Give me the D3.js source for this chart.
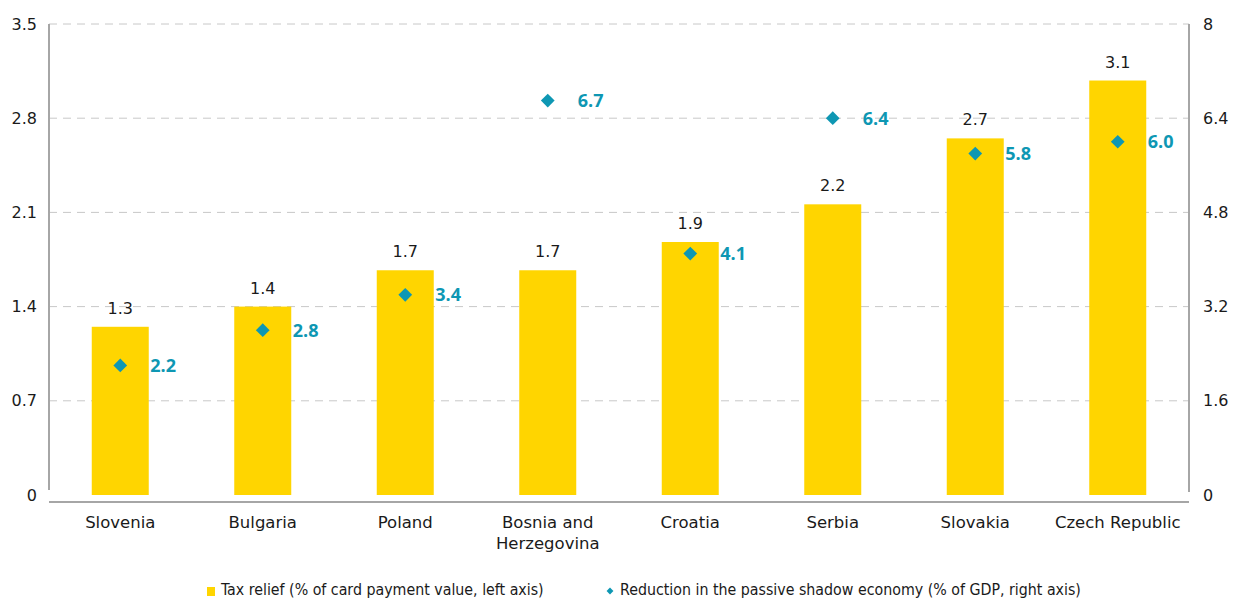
<!DOCTYPE html>
<html><head><meta charset="utf-8">
<script src="https://cdn.jsdelivr.net/npm/d3@7"></script>
<style>body{margin:0;background:#fff}svg{display:block}</style>
</head><body>
<svg id="c" width="1236" height="600"></svg>
<script>
const categories = ["Slovenia","Bulgaria","Poland","Bosnia and\nHerzegovina","Croatia","Serbia","Slovakia","Czech Republic"];
const taxRelief = [1.25, 1.4, 1.67, 1.67, 1.88, 2.16, 2.65, 3.08];
const taxReliefLabels = ["1.3","1.4","1.7","1.7","1.9","2.2","2.7","3.1"];
const shadowReduction = [2.2, 2.8, 3.4, 6.7, 4.1, 6.4, 5.8, 6.0];
const leftTicks = [0, 0.7, 1.4, 2.1, 2.8, 3.5];
const rightTicks = [0, 1.6, 3.2, 4.8, 6.4, 8];
const legendLabels = ["Tax relief (% of card payment value, left axis)","Reduction in the passive shadow economy (% of GDP, right axis)"];

const svg = d3.select("#c");
const L = 49, R = 1189, T = 24, B = 495;
const yellow = "#FFD500", teal = "#0E97B3";
const font = "'DejaVu Sans', Verdana, sans-serif";

const x = d3.scaleBand().domain(categories).range([L, R]).paddingInner(0.6).paddingOuter(0.3);
const yL = d3.scaleLinear().domain([0, 3.5]).range([B, T]);
const yR = d3.scaleLinear().domain([0, 8]).range([B, T]);

// gridlines
svg.append("g").selectAll("line").data(leftTicks.filter(d => d > 0)).join("line")
  .attr("x1", L).attr("x2", R).attr("y1", d => yL(d)).attr("y2", d => yL(d))
  .attr("stroke", "#c8c8c8").attr("stroke-width", 1).attr("stroke-dasharray", "8,6");

// axes
const gl = svg.append("g").attr("transform", `translate(${L},0)`)
  .call(d3.axisLeft(yL).tickValues(leftTicks).tickSize(0).tickPadding(12).tickFormat(d => d === 0 ? "0" : d3.format(".1f")(d)));
const gr = svg.append("g").attr("transform", `translate(${R},0)`)
  .call(d3.axisRight(yR).tickValues(rightTicks).tickSize(0).tickPadding(14).tickFormat(d => (d === 0 || d === 8) ? String(d) : d3.format(".1f")(d)));
[gl, gr].forEach(g => {
  g.select(".domain").remove();
  g.selectAll("text").attr("font-family", font).attr("font-size", 16).attr("fill", "#1a1a1a");
});
svg.append("line").attr("x1", L).attr("x2", L).attr("y1", T).attr("y2", 490).attr("stroke", "#a6a6a6").attr("stroke-width", 2);
svg.append("line").attr("x1", R).attr("x2", R).attr("y1", T).attr("y2", 492).attr("stroke", "#a6a6a6").attr("stroke-width", 2);
svg.append("line").attr("x1", L).attr("x2", R).attr("y1", 502).attr("y2", 502).attr("stroke", "#a6a6a6").attr("stroke-width", 2);

// bars
svg.append("g").selectAll("rect").data(categories).join("rect")
  .attr("x", d => x(d)).attr("width", x.bandwidth())
  .attr("y", (d, i) => yL(taxRelief[i])).attr("height", (d, i) => B - yL(taxRelief[i]))
  .attr("fill", yellow);

// bar labels
svg.append("g").selectAll("text").data(categories).join("text")
  .attr("x", d => x(d) + x.bandwidth() / 2).attr("y", (d, i) => yL(taxRelief[i]) - 13)
  .attr("text-anchor", "middle").attr("font-family", font).attr("font-size", 16).attr("fill", "#1a1a1a")
  .text((d, i) => taxReliefLabels[i]);

// diamonds
const sym = d3.symbol().type(d3.symbolDiamond2).size(120);
svg.append("g").selectAll("path").data(categories).join("path")
  .attr("d", sym)
  .attr("transform", (d, i) => `translate(${x(d) + x.bandwidth() / 2},${yR(shadowReduction[i])})`)
  .attr("fill", teal);
svg.append("g").selectAll("text").data(categories).join("text")
  .attr("x", d => x(d) + x.bandwidth() / 2 + 30).attr("y", (d, i) => yR(shadowReduction[i]) + 6.5)
  .attr("font-family", "'Open Sans', sans-serif").attr("font-weight", 700).attr("font-size", 18).attr("fill", teal)
  .text((d, i) => d3.format(".1f")(shadowReduction[i]));

// category labels
svg.append("g").selectAll("text").data(categories).join("text")
  .attr("text-anchor", "middle").attr("font-family", font).attr("font-size", 16.5).attr("fill", "#1a1a1a")
  .attr("x", d => x(d) + x.bandwidth() / 2).attr("y", 528)
  .each(function(d) {
    const lines = d.split("\n");
    d3.select(this).selectAll("tspan").data(lines).join("tspan")
      .attr("x", x(d) + x.bandwidth() / 2).attr("dy", (l, j) => j === 0 ? 0 : 21).text(l => l);
  });

// legend
const lf = "'DejaVu Sans Condensed', 'DejaVu Sans', sans-serif";
svg.append("rect").attr("x", 207).attr("y", 587).attr("width", 8).attr("height", 9).attr("fill", yellow);
svg.append("text").attr("x", 221).attr("y", 595).attr("font-family", lf).attr("font-size", 15.8).attr("fill", "#1a1a1a").text(legendLabels[0]);
svg.append("path").attr("d", d3.symbol().type(d3.symbolDiamond2).size(30)).attr("transform", "translate(610,591)").attr("fill", teal);
svg.append("text").attr("x", 620).attr("y", 595).attr("font-family", lf).attr("font-size", 15.8).attr("fill", "#1a1a1a").text(legendLabels[1]);
</script>
</body></html>
